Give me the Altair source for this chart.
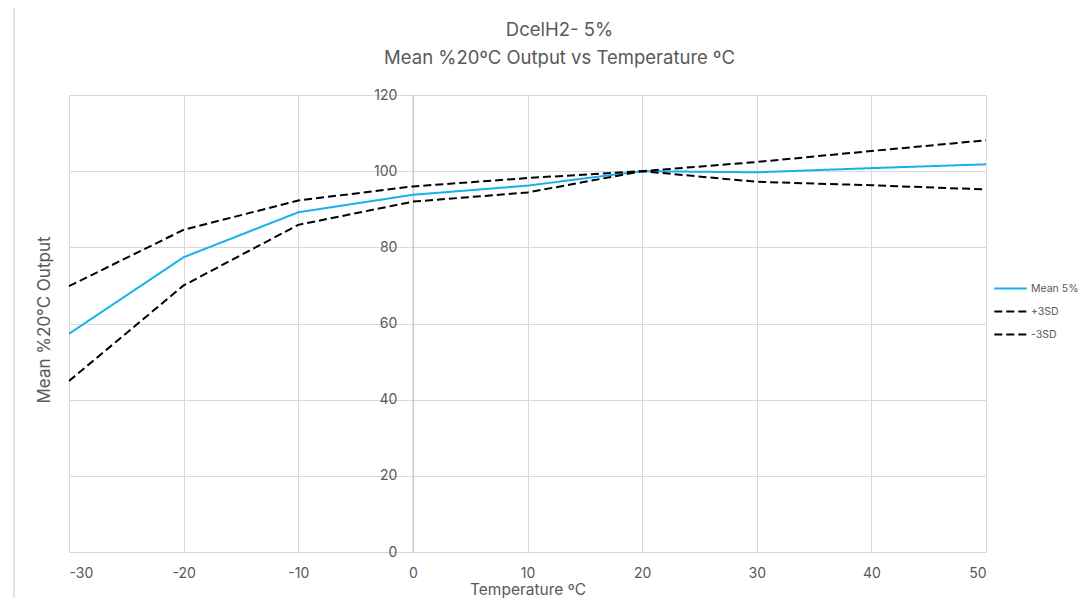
import altair as alt
import pandas as pd

temps = [-30, -20, -10, 0, 10, 20, 30, 40, 50]
mean_5 = [57.3, 77.4, 89.2, 93.8, 96.2, 100.0, 99.7, 100.8, 101.8]
plus_3sd = [69.8, 84.6, 92.3, 96.0, 98.2, 100.0, 102.4, 105.3, 108.1]
minus_3sd = [44.9, 70.0, 85.9, 92.0, 94.4, 100.0, 97.2, 96.3, 95.2]
series_names = ["Mean 5%", "+3SD", "-3SD"]
x_ticks = [-30, -20, -10, 0, 10, 20, 30, 40, 50]
y_ticks = [0, 20, 40, 60, 80, 100, 120]

rows = []
for name, vals in zip(series_names, [mean_5, plus_3sd, minus_3sd]):
    for t, v in zip(temps, vals):
        rows.append({"temp": t, "value": v, "series": name})
df = pd.DataFrame(rows)

W, H = 917, 457
FONT = "Inter"
GREY = "#595959"
y_offset = -W * 30 / 80

legend_kw = dict(title=None, orient="none", legendX=924, legendY=176,
                 symbolType="stroke", symbolSize=1050, symbolStrokeWidth=2,
                 rowPadding=-16, labelOffset=3, labelFontSize=10.5,
                 labelColor=GREY, labelFont=FONT)

lines = alt.Chart(df).mark_line(strokeWidth=2).encode(
    x=alt.X("temp:Q",
            scale=alt.Scale(domain=[-30, 50], nice=False),
            axis=alt.Axis(values=x_ticks, grid=True, gridColor="#d9d9d9",
                          domainColor="#d9d9d9", ticks=False,
                          labelExpr="toString(datum.value)",
                          labelPadding=14, labelFontSize=14, labelColor=GREY,
                          labelFont=FONT, title="Temperature ºC",
                          titleFontSize=15.5, titleFontWeight="normal",
                          titleColor=GREY, titleFont=FONT,
                          titleY=42, titleBaseline="alphabetic")),
    y=alt.Y("value:Q",
            scale=alt.Scale(domain=[0, 120], nice=False),
            axis=alt.Axis(values=y_ticks, grid=True, gridColor="#d9d9d9",
                          offset=y_offset, domainColor="#c6c6c6", domainWidth=1.5,
                          ticks=False, labelPadding=16, labelFontSize=14,
                          labelColor=GREY, labelFont=FONT,
                          title="Mean %20°C Output", titleFontSize=17,
                          titleFontWeight="normal", titleColor=GREY, titleFont=FONT,
                          titleX=-25 + y_offset, titleY=H / 2 - 4, titleAngle=-90,
                          titleAlign="center", titleBaseline="middle")),
    color=alt.Color("series:N",
                    scale=alt.Scale(domain=series_names,
                                    range=["#17b1ea", "#000000", "#000000"]),
                    legend=alt.Legend(**legend_kw)),
    strokeDash=alt.StrokeDash("series:N",
                              scale=alt.Scale(domain=series_names,
                                              range=[[1, 0], [8, 4], [8, 4]]),
                              legend=alt.Legend(**legend_kw)),
    order=alt.Order("temp:Q"),
)

border = alt.Chart(pd.DataFrame({"b": [0]})).mark_rect(
    fill=None, stroke="#d9d9d9", strokeWidth=1.5
).encode(x=alt.value(-55), x2=alt.value(1050), y=alt.value(-91), y2=alt.value(530))

chart = alt.layer(border, lines).properties(
    width=W, height=H,
    padding={"left": 61, "top": 87, "right": 94, "bottom": 46},
    autosize=alt.AutoSizeParams(type="none"),
    title=alt.TitleParams(text=["DcelH2- 5%", "Mean %20ºC Output vs Temperature ºC"],
                          fontSize=18.5, fontWeight="normal", color=GREY, font=FONT,
                          anchor="middle", frame="group", dx=32, offset=0, dy=64,
                          lineHeight=28),
).configure_view(stroke=None)

chart.save("out.html", embed_options={"renderer": "svg", "actions": False})
